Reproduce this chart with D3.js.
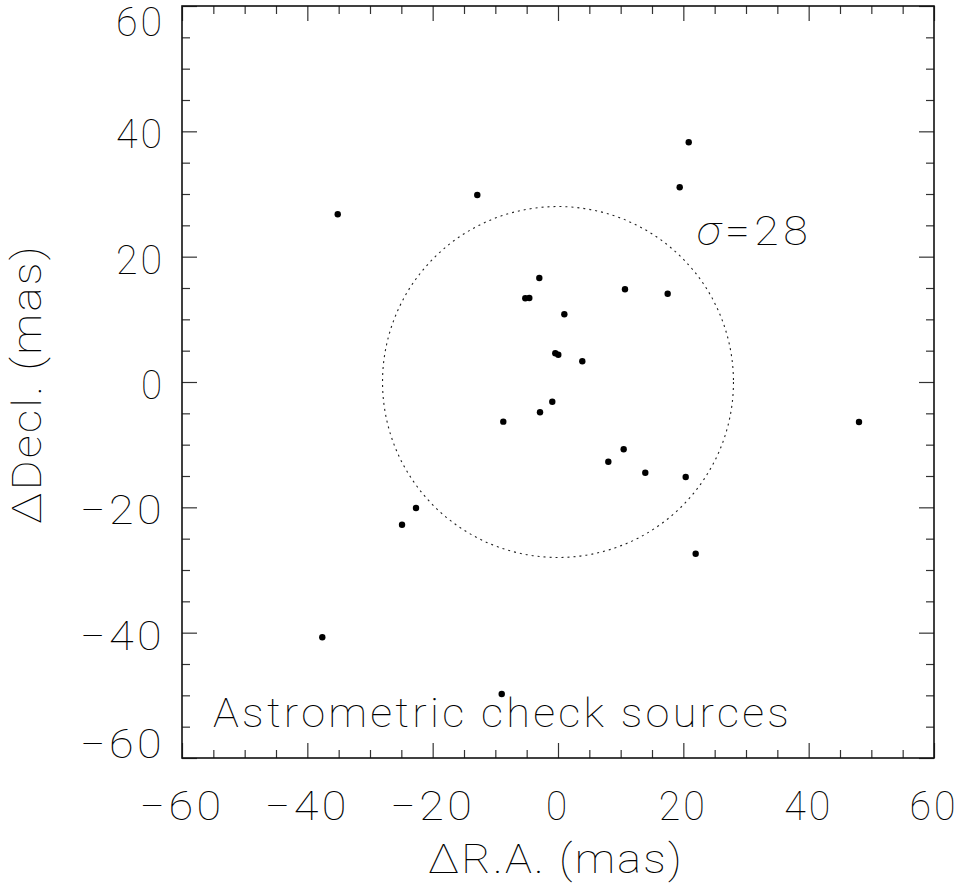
<!DOCTYPE html>
<html>
<head>
<meta charset="utf-8">
<script src="https://cdn.jsdelivr.net/npm/d3@7"></script>
<style>
  html, body { margin: 0; padding: 0; background: #fff; }
  svg text { font-family: Roboto, "Open Sans", "Noto Sans", sans-serif; font-weight: 100; fill: #000; }
</style>
</head>
<body>
<svg id="chart" width="958" height="888"></svg>
<script>
// ---- data ----
const raOffsets = [-35.15, -12.88, 20.86, 19.42, 17.50, 10.69, -2.98, -5.22, -4.58, 1.01,
                   -0.43, 0.05, 3.88, -0.91, -2.87, -8.73, 48.03, 10.48, 8.03, 13.93,
                   20.38, -22.66, -24.89, 21.97, -37.61, -8.98];
const decOffsets = [26.76, 29.84, 38.25, 31.07, 14.09, 14.79, 16.59, 13.36, 13.40, 10.80,
                    4.58, 4.36, 3.30, -3.14, -4.83, -6.33, -6.38, -10.74, -12.72, -14.47,
                    -15.16, -20.11, -22.77, -27.40, -40.74, -49.79];
const majorTicks = [-60, -40, -20, 0, 20, 40, 60];
const tickLabels = ["\u221260", "\u221240", "\u221220", "0", "20", "40", "60"];
const minorTicks = d3.range(-60, 61, 5).filter(v => v % 20 !== 0);
const sigma = 28;
const xTitle = "\u0394R.A. (mas)";
const yTitle = "\u0394Decl. (mas)";
const panelLabel = "Astrometric check sources";

// ---- layout ----
const svg = d3.select("#chart");
const L = 182, R = 934, T = 6, B = 758;
const x = d3.scaleLinear().domain([-60, 60]).range([L, R]);
const y = d3.scaleLinear().domain([-60, 60]).range([B, T]);
const fs = 40;

// ticks (inward, all four sides)
function addAxis(axisGen, transform) {
  const g = svg.append("g").attr("transform", transform).call(axisGen);
  g.selectAll("text").remove();
  g.select(".domain").remove();
  g.selectAll("line").attr("stroke", "#333").attr("stroke-width", 1.2);
}
addAxis(d3.axisBottom(x).tickValues(majorTicks).tickSize(-15), `translate(0,${B})`);
addAxis(d3.axisBottom(x).tickValues(minorTicks).tickSize(-8), `translate(0,${B})`);
addAxis(d3.axisTop(x).tickValues(majorTicks).tickSize(-15), `translate(0,${T})`);
addAxis(d3.axisTop(x).tickValues(minorTicks).tickSize(-8), `translate(0,${T})`);
addAxis(d3.axisLeft(y).tickValues(majorTicks).tickSize(-15), `translate(${L},0)`);
addAxis(d3.axisLeft(y).tickValues(minorTicks).tickSize(-8), `translate(${L},0)`);
addAxis(d3.axisRight(y).tickValues(majorTicks).tickSize(-15), `translate(${R},0)`);
addAxis(d3.axisRight(y).tickValues(minorTicks).tickSize(-8), `translate(${R},0)`);

// frame
svg.append("rect").attr("x", L).attr("y", T).attr("width", R - L).attr("height", B - T)
  .attr("fill", "none").attr("stroke", "#111").attr("stroke-width", 1.6);

// widen glyphs to mimic the wide stroke font of the original
const labW = s => s.length === 3 ? 85 : (s.length === 2 ? 49 : 24);
function widen(sel, w, ls) {
  sel.attr("textLength", w).attr("lengthAdjust", "spacingAndGlyphs")
     .attr("letter-spacing", ls || 0);
}

// x tick labels
svg.append("g").selectAll("text").data(majorTicks).join("text")
  .attr("x", d => x(d)).attr("y", 820).attr("text-anchor", "middle")
  .attr("font-size", fs).text((d, i) => tickLabels[i])
  .each(function () { widen(d3.select(this), labW(this.textContent), 3); });

// y tick labels (end labels clamped inside the frame height)
svg.append("g").selectAll("text").data(majorTicks).join("text")
  .attr("x", 165)
  .attr("y", d => d === 60 ? 36 : (d === -60 ? 758 : y(d) + 17))
  .attr("text-anchor", "end")
  .attr("font-size", fs).text((d, i) => tickLabels[i])
  .each(function () { widen(d3.select(this), labW(this.textContent), 3); });

// axis titles
svg.append("text").attr("x", 556).attr("y", 873).attr("text-anchor", "middle")
  .attr("font-size", fs).call(widen, 256, 2).text(xTitle);
svg.append("text").attr("transform", "translate(41,384) rotate(-90)").attr("text-anchor", "middle")
  .attr("font-size", fs).call(widen, 280, 2).text(yTitle);

// sigma circle
svg.append("ellipse").attr("cx", x(0)).attr("cy", y(0))
  .attr("rx", x(sigma) - x(0)).attr("ry", y(0) - y(sigma))
  .attr("fill", "none").attr("stroke", "#222").attr("stroke-width", 1.1)
  .attr("stroke-dasharray", "2,4");

// points
svg.append("g").selectAll("circle").data(raOffsets).join("circle")
  .attr("cx", d => x(d)).attr("cy", (d, i) => y(decOffsets[i])).attr("r", 3.2).attr("fill", "#000");

// annotations
const sg = svg.append("text").attr("x", 697).attr("y", 245).attr("font-size", fs).call(widen, 115, 4);
sg.append("tspan").attr("font-style", "italic").text("\u03C3");
sg.append("tspan").text("=" + sigma);
svg.append("text").attr("x", 213).attr("y", 727).attr("font-size", fs)
  .call(widen, 579, 3).text(panelLabel);
</script>
</body>
</html>
